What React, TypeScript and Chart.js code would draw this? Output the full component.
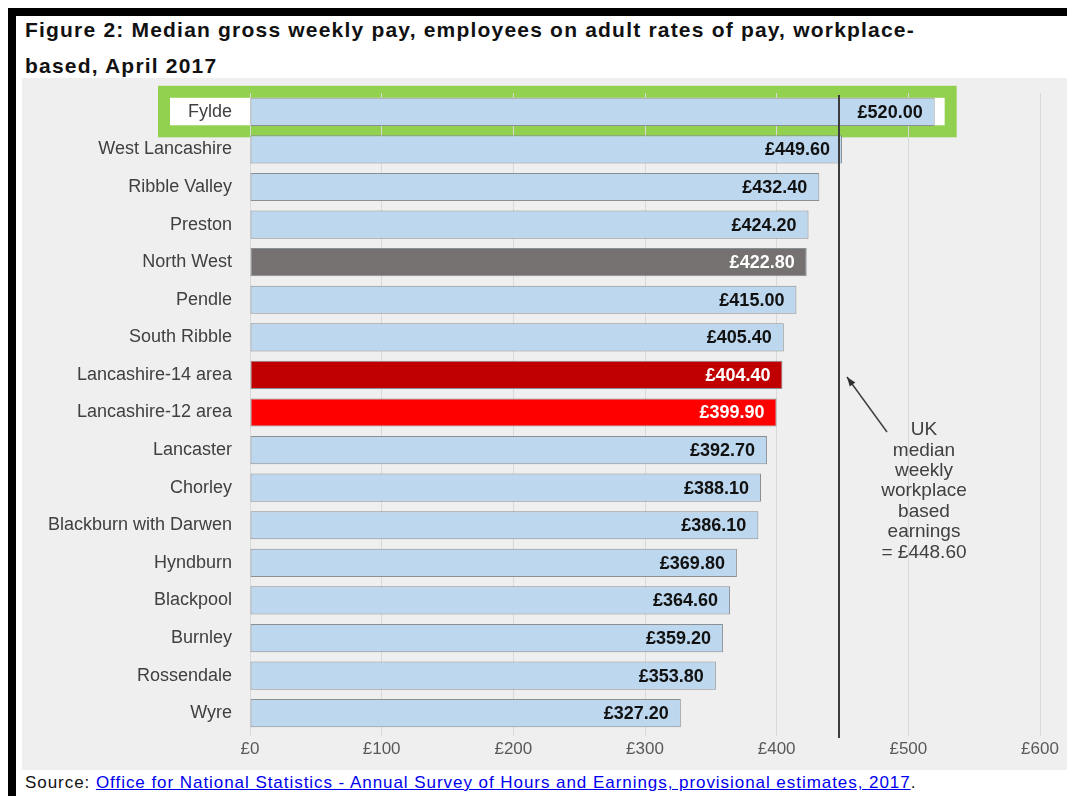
import React, { useEffect, useRef } from "react";
import { Chart, registerables } from "chart.js";

Chart.register(...registerables);

const categories = [
  "Fylde",
  "West Lancashire",
  "Ribble Valley",
  "Preston",
  "North West",
  "Pendle",
  "South Ribble",
  "Lancashire-14 area",
  "Lancashire-12 area",
  "Lancaster",
  "Chorley",
  "Blackburn with Darwen",
  "Hyndburn",
  "Blackpool",
  "Burnley",
  "Rossendale",
  "Wyre",
];

const values = [
  520.0, 449.6, 432.4, 424.2, 422.8, 415.0, 405.4, 404.4, 399.9, 392.7, 388.1,
  386.1, 369.8, 364.6, 359.2, 353.8, 327.2,
];

const barColors = [
  "#bdd7ee", "#bdd7ee", "#bdd7ee", "#bdd7ee", "#767171", "#bdd7ee", "#bdd7ee",
  "#c00000", "#ff0000", "#bdd7ee", "#bdd7ee", "#bdd7ee", "#bdd7ee", "#bdd7ee",
  "#bdd7ee", "#bdd7ee", "#bdd7ee",
];

const labelColors = [
  "#111111", "#111111", "#111111", "#111111", "#ffffff", "#111111", "#111111",
  "#ffffff", "#ffffff", "#111111", "#111111", "#111111", "#111111", "#111111",
  "#111111", "#111111", "#111111",
];

const xTicks = [0, 100, 200, 300, 400, 500, 600];

const ukMedian = 448.6;
const annotationLines = [
  "UK",
  "median",
  "weekly",
  "workplace",
  "based",
  "earnings",
  "= £448.60",
];

const highlightIndex = 0;

const FONT = "'Liberation Sans', Arial, sans-serif";

export default function App() {
  const canvasRef = useRef<HTMLCanvasElement | null>(null);

  useEffect(() => {
    const canvas = canvasRef.current;
    if (!canvas) return;

    const bgPlugin = {
      id: "bgAndHighlight",
      beforeDraw(chart: any) {
        const ctx = chart.ctx;
        ctx.save();
        ctx.fillStyle = "#efefef";
        ctx.fillRect(0, 0, chart.width, chart.height);
        // highlight box around Fylde
        const y = chart.scales.y.getPixelForValue(highlightIndex);
        const xEnd = chart.scales.x.getPixelForValue(values[highlightIndex]);
        const left = 142;
        const right = xEnd + 16;
        const top = y - 20;
        const bottom = y + 19.5;
        ctx.fillStyle = "#ffffff";
        ctx.fillRect(left, top, right - left, bottom - top);
        ctx.strokeStyle = "#92d050";
        ctx.lineWidth = 12;
        ctx.strokeRect(left, top, right - left, bottom - top);
        ctx.restore();
      },
      afterDatasetsDraw(chart: any) {
        const ctx = chart.ctx;
        const xs = chart.scales.x;
        const area = chart.chartArea;
        ctx.save();
        // UK median line
        const mx = Math.round(xs.getPixelForValue(ukMedian)) - 2;
        ctx.strokeStyle = "#3c3c3c";
        ctx.lineWidth = 2;
        ctx.beginPath();
        ctx.moveTo(mx, 17);
        ctx.lineTo(mx, area.bottom + 6);
        ctx.stroke();

        // data labels
        const meta = chart.getDatasetMeta(0);
        ctx.font = `bold 18px ${FONT}`;
        ctx.textAlign = "right";
        ctx.textBaseline = "middle";
        meta.data.forEach((bar: any, i: number) => {
          ctx.fillStyle = labelColors[i];
          ctx.fillText("£" + values[i].toFixed(2), bar.x - 12, bar.y + 1);
        });

        // annotation text
        const cx = 902;
        ctx.fillStyle = "#404040";
        ctx.font = `19px ${FONT}`;
        ctx.textAlign = "center";
        const startY = 352;
        annotationLines.forEach((line, i) => {
          ctx.fillText(line, cx, startY + i * 20.4);
        });

        // arrow
        const ax1 = 865, ay1 = 354, ax2 = mx + 8, ay2 = 299;
        ctx.strokeStyle = "#404040";
        ctx.lineWidth = 1.5;
        ctx.beginPath();
        ctx.moveTo(ax1, ay1);
        ctx.lineTo(ax2, ay2);
        ctx.stroke();
        const ang = Math.atan2(ay2 - ay1, ax2 - ax1);
        const hl = 10;
        ctx.fillStyle = "#303030";
        ctx.beginPath();
        ctx.moveTo(ax2, ay2);
        ctx.lineTo(ax2 - hl * Math.cos(ang - 0.35), ay2 - hl * Math.sin(ang - 0.35));
        ctx.lineTo(ax2 - hl * Math.cos(ang + 0.35), ay2 - hl * Math.sin(ang + 0.35));
        ctx.closePath();
        ctx.fill();
        ctx.restore();
      },
    };

    const chart = new Chart(canvas, {
      type: "bar",
      data: {
        labels: categories,
        datasets: [
          {
            data: values,
            backgroundColor: barColors,
            borderColor: "#8a8f94",
            borderWidth: 1,
            borderSkipped: false,
            categoryPercentage: 1,
            barPercentage: 0.75,
          },
        ],
      },
      options: {
        indexAxis: "y",
        animation: false,
        responsive: false,
        devicePixelRatio: 1,
        layout: { padding: { top: 15, right: 27, left: 0, bottom: 0 } },
        plugins: {
          legend: { display: false },
          tooltip: { enabled: false },
          title: { display: false },
        },
        scales: {
          x: {
            min: 0,
            max: 600,
            afterFit(scale: any) {
              scale.height = 38;
              scale.paddingLeft = 0;
              scale.paddingRight = 0;
            },
            afterBuildTicks(scale: any) {
              scale.ticks = xTicks.map((v) => ({ value: v }));
            },
            grid: {
              color: "#d9d9d9",
              lineWidth: 1,
              drawTicks: true,
              tickLength: 4,
              tickColor: "#d9d9d9",
            },
            border: { display: false },
            ticks: {
              color: "#595959",
              font: { family: FONT, size: 17 },
              padding: 3,
              callback: (v: any) => "£" + v,
            },
          },
          y: {
            afterFit(scale: any) {
              scale.width = 228;
              scale.paddingTop = 0;
              scale.paddingBottom = 0;
            },
            grid: { display: false, drawTicks: false },
            border: { display: false },
            ticks: {
              color: "#404040",
              font: { family: FONT, size: 18 },
              padding: 18,
              autoSkip: false,
            },
          },
        },
      },
      plugins: [bgPlugin],
    } as any);

    return () => chart.destroy();
  }, []);

  return (
    <div
      style={{
        position: "fixed",
        left: 0,
        top: 0,
        width: 1067,
        height: 796,
        overflow: "hidden",
        background: "#ffffff",
        fontFamily: FONT,
      }}
    >
      <div style={{ position: "absolute", left: 8, top: 8, width: 1059, height: 8, background: "#000" }} />
      <div style={{ position: "absolute", left: 8, top: 8, width: 8, height: 788, background: "#000" }} />
      <div
        style={{
          position: "absolute",
          left: 25,
          top: 12,
          fontWeight: "bold",
          fontSize: 21,
          letterSpacing: "1.2px",
          lineHeight: "36px",
          color: "#111",
          whiteSpace: "nowrap",
        }}
      >
        Figure 2: Median gross weekly pay, employees on adult rates of pay, workplace-
        <br />
        based, April 2017
      </div>
      <canvas
        ref={canvasRef}
        width={1045}
        height={692}
        style={{ position: "absolute", left: 22, top: 78, width: 1045, height: 692 }}
      />
      <div
        style={{
          position: "absolute",
          left: 25,
          top: 773,
          fontSize: 17,
          letterSpacing: "0.95px",
          lineHeight: "20px",
          color: "#111",
          whiteSpace: "nowrap",
        }}
      >
        Source:{" "}
        <span style={{ color: "#0000ee", textDecoration: "underline" }}>
          Office for National Statistics - Annual Survey of Hours and Earnings, provisional estimates, 2017
        </span>
        .
      </div>
    </div>
  );
}
